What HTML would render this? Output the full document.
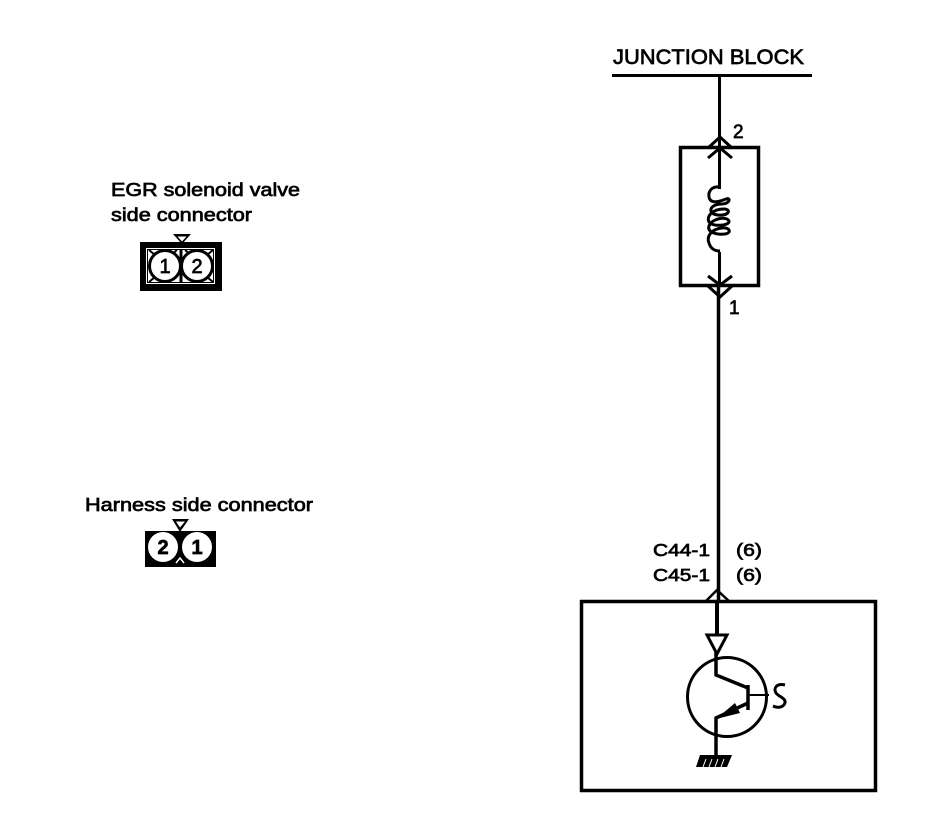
<!DOCTYPE html>
<html><head><meta charset="utf-8"><style>
html,body{margin:0;padding:0;background:#fff}
svg{display:block}
text{font-family:"Liberation Sans",sans-serif;fill:#000;stroke:#000;stroke-width:.7}
</style></head><body>
<svg width="928" height="824" viewBox="0 0 928 824" xmlns="http://www.w3.org/2000/svg">
<g fill="none" stroke="#000" stroke-linecap="butt">
<!-- junction bar + main wire -->
<path d="M612 75.500H812" stroke-width="3"/>
<path d="M719.500 76V189M719.500 252V286" stroke-width="3"/>
<path d="M718.500 286V601" stroke-width="3.500"/>
<!-- fuse box -->
<rect x="680.500" y="147.500" width="78" height="138" stroke-width="3.500"/>
<!-- connector arrows at fuse -->
<path d="M708 148L720 137L732 148M708 158L720 148L732 158" stroke-width="3"/>
<path d="M708 276L720 285L732 276M708 286L720 297L732 286" stroke-width="3"/>
<!-- coil -->
<path d="M720 187C712 186 708 191 709 197C710 203 716 203 726 199C731 197 730 204 722 204C709 204 707 214 718 215C730 216 731 209 724 209C713 209 706 216 709 222C712 227 730 226 729 221C727 216 712 218 709 226C707 232 716 235 725 234C732 233 730 227 722 228C712 229 706 236 709 243C711 250 716 251 720 251" stroke-width="3"/>
<!-- lower box -->
<rect x="581.500" y="601.500" width="294" height="189" stroke-width="3.500"/>
<path d="M705 602L717 590L730 602" stroke-width="2.500"/>
<path d="M717 601V634" stroke-width="4"/>
<path d="M707 635H727L717 654Z" stroke-width="3"/>
<!-- transistor -->
<circle cx="727" cy="697" r="39.500" stroke-width="3"/>
<path d="M716 652V675L748 688" stroke-width="3.500"/>
<path d="M748 685V710" stroke-width="3.500"/>
<path d="M748 695H769" stroke-width="2"/>
<path d="M748 703L716 718V758" stroke-width="3.500"/>
<path d="M785 685C777 683 773 688 776 693C779 697 786 698 785 703C783 708 777 708 773 706" stroke-width="3"/>
</g>
<path d="M716 719L735 703L740 713Z" fill="#000"/>
<!-- ground -->
<path d="M700 755H732L727 767H696Z" fill="#000"/>
<path d="M703 767L706 759M709 767L712 759M715 767L718 759M721 767L724 759" stroke="#fff" stroke-width="1"/>
<!-- left connector 1 -->
<rect x="140" y="242" width="82" height="49" fill="#000"/>
<rect x="146" y="248" width="69" height="36" fill="#fff"/>
<rect x="147.500" y="249.500" width="66" height="33" fill="none" stroke="#000" stroke-width="1"/>
<path d="M173 234H191L182 244Z" fill="#000"/><path d="M177.500 236.500H186.500L182 241.500Z" fill="#fff"/>
<path d="M181 250V283" stroke="#000" stroke-width="3"/>
<path d="M149 250L155 255M177 250L171 255M185 250L191 255M213 250L207 255M149 282L155 277M213 282L207 277" stroke="#000" stroke-width="2"/>
<circle cx="165" cy="266" r="15.500" fill="#fff" stroke="#000" stroke-width="3"/>
<circle cx="197" cy="266" r="15.500" fill="#fff" stroke="#000" stroke-width="3"/>
<!-- left connector 2 -->
<rect x="145" y="531" width="71" height="36" fill="#000"/>
<path d="M172 519H189L180 532Z" fill="#000"/><path d="M176 521.500H185L180 527.500Z" fill="#fff"/>
<circle cx="163" cy="547" r="15" fill="#fff"/>
<circle cx="197" cy="547" r="15" fill="#fff"/>
<path d="M176 563L180 558L184 563" fill="none" stroke="#fff" stroke-width="1.500"/>
<!-- labels -->
<text x="613" y="64" font-size="21.500" textLength="191" lengthAdjust="spacingAndGlyphs">JUNCTION BLOCK</text>
<text x="733" y="138" font-size="19">2</text>
<text x="729" y="314" font-size="19">1</text>
<text x="111" y="196" font-size="18.500" textLength="189" lengthAdjust="spacingAndGlyphs">EGR solenoid valve</text>
<text x="111" y="221" font-size="18.500" textLength="141" lengthAdjust="spacingAndGlyphs">side connector</text>
<text x="85" y="511" font-size="18.500" textLength="228" lengthAdjust="spacingAndGlyphs">Harness side connector</text>
<text x="653" y="556" font-size="17.500" textLength="57" lengthAdjust="spacingAndGlyphs">C44-1</text>
<text x="653" y="581" font-size="17.500" textLength="57" lengthAdjust="spacingAndGlyphs">C45-1</text>
<text x="736" y="556" font-size="17.500" textLength="26" lengthAdjust="spacingAndGlyphs">(6)</text>
<text x="736" y="581" font-size="17.500" textLength="26" lengthAdjust="spacingAndGlyphs">(6)</text>
<text x="165" y="273" font-size="20" text-anchor="middle">1</text>
<text x="197" y="273" font-size="20" text-anchor="middle">2</text>
<text x="163" y="554" font-size="20" font-weight="bold" text-anchor="middle">2</text>
<text x="197" y="554" font-size="20" font-weight="bold" text-anchor="middle">1</text>
</svg>
</body></html>
